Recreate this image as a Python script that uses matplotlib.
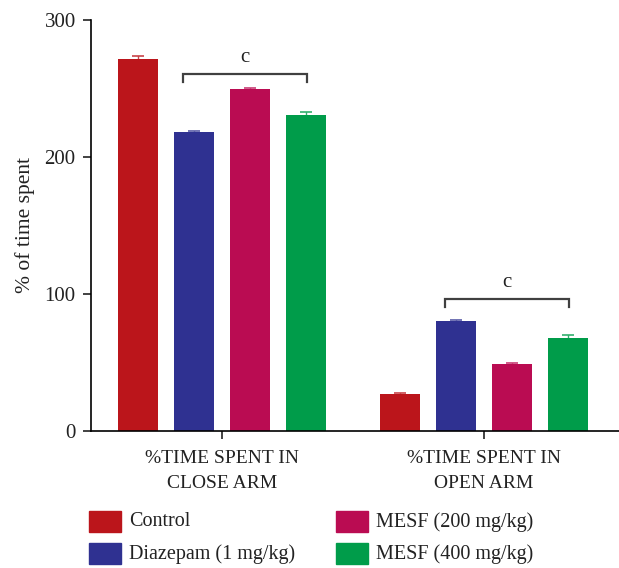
import matplotlib
matplotlib.use("Agg")
import matplotlib.pyplot as plt
import numpy as np
from matplotlib.patches import Rectangle

plt.rcParams['font.family'] = ['Liberation Serif', 'DejaVu Serif']

groups = ["%TIME SPENT IN\nCLOSE ARM", "%TIME SPENT IN\nOPEN ARM"]
series = ["Control", "Diazepam (1 mg/kg)", "MESF (200 mg/kg)", "MESF (400 mg/kg)"]
colors = ["#BB151B", "#2F3191", "#BA0C52", "#009C4A"]
values = {
    "Control": [271.5, 27.0],
    "Diazepam (1 mg/kg)": [218.3, 80.3],
    "MESF (200 mg/kg)": [249.6, 48.9],
    "MESF (400 mg/kg)": [230.7, 67.9],
}
errors = {
    "Control": [2.0, 0.5],
    "Diazepam (1 mg/kg)": [0.5, 1.0],
    "MESF (200 mg/kg)": [0.5, 0.8],
    "MESF (400 mg/kg)": [2.0, 2.5],
}
sig_label = "c"
bracket_y = [260.5, 96.5]

fig = plt.figure(figsize=(6.19, 5.68), dpi=100)
ax = fig.add_axes([0.147, 0.2412, 0.853, 0.7236])

group_x = np.array([0.0, 4.68])
offsets = np.array([-1.5, -0.5, 0.5, 1.5])
width = 0.7
for i, s in enumerate(series):
    ax.bar(group_x + offsets[i], values[s], width=width, color=colors[i],
           yerr=errors[s], error_kw=dict(ecolor=colors[i], capsize=4.5, elinewidth=1.0, capthick=1.2, alpha=0.8),
           zorder=2)

for gx, by in zip(group_x, bracket_y):
    x0, x1 = gx - 0.7, gx + 1.52
    ax.plot([x0, x0, x1, x1], [by - 6, by, by, by - 6], color="#404040", lw=1.6,
            solid_joinstyle='miter', clip_on=False)
    ax.text((x0 + x1) / 2, by + 5, sig_label, ha='center', va='bottom', fontsize=15, color="#222222")

ax.set_xlim(-2.34, 7.09)
ax.set_ylim(0, 300)
ax.set_yticks([0, 100, 200, 300])
ax.set_xticks(group_x)
ax.set_xticklabels(groups, fontsize=14, color="#222222", linespacing=1.55)
ax.tick_params(axis='y', labelsize=15, length=6, width=1.2, colors="#222222", pad=5)
ax.tick_params(axis='x', length=6, width=1.2, pad=8, colors="#222222")
for sp in ["top", "right"]:
    ax.spines[sp].set_visible(False)
ax.spines["left"].set_linewidth(1.2)
ax.spines["bottom"].set_linewidth(1.2)
ax.set_ylabel("% of time spent", fontsize=15.5, color="#222222", labelpad=7)

# legend
W, H = 619.0, 568.0
pos = [(89, 511), (336, 511), (89, 543), (336, 543)]
order = [0, 2, 1, 3]
for k, idx in enumerate(order):
    px, py = pos[k]
    fig.patches.append(Rectangle((px / W, 1 - (py + 21) / H), 32 / W, 21 / H,
                                 transform=fig.transFigure, color=colors[idx]))
    fig.text((px + 40) / W, 1 - (py + 11) / H, series[idx], fontsize=14.5,
             va='center', ha='left', color="#222222")

fig.savefig("out.png", dpi=100)
